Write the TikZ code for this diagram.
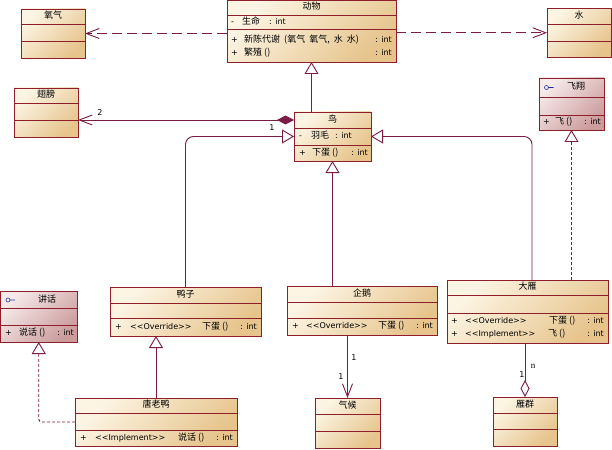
\documentclass[tikz,border=0pt]{standalone}
\usepackage{fontspec}
\setmainfont{DejaVu Sans}
\newfontfamily\cjk{Noto Sans CJK SC}
\newfontfamily\sernf{Liberation Serif}
\usetikzlibrary{arrows.meta}
\definecolor{bd}{HTML}{8E1F2A}
\definecolor{ln}{HTML}{7A1C45}
\definecolor{cA}{HTML}{FCF5E4}
\definecolor{cB}{HTML}{E6C48C}
\definecolor{iA}{HTML}{F6EAEA}
\definecolor{iB}{HTML}{CC9C9C}
\definecolor{icn}{HTML}{2030A0}
\newcommand\umlbox[9]{%
  \pgfmathsetmacro\ubw{#4-#2}\pgfmathsetmacro\ubh{#5-#3}%
  \node[#8, minimum width=\ubw pt, minimum height=\ubh pt] (#1) at (#2,#3) {};
  \draw[sepl] (#2,#6) -- (#4,#6) (#2,#7) -- (#4,#7);
  \node[zh] (#1-t) at ({(#2+#4)/2},{(#3+#6)/2}) {#9};
}
\begin{document}
\begin{tikzpicture}[x=1pt,y=-1pt,
  cls/.style={draw=bd, line width=0.8pt, inner sep=0pt, outer sep=0pt, anchor=north west, top color=cA, bottom color=cB, shading angle=45},
  ifc/.style={draw=bd, line width=0.8pt, inner sep=0pt, outer sep=0pt, anchor=north west, top color=iA, bottom color=iB, shading angle=45},
  sepl/.style={draw=bd, line width=0.8pt},
  txt/.style={font=\fontsize{8}{9}\selectfont, inner sep=0pt, text height=6pt, text depth=1.5pt, text=black},
  zh/.style={txt, font=\fontsize{9}{9}\selectfont\cjk},
  lw/.style={txt, anchor=west},
  le/.style={txt, anchor=east},
  zw/.style={zh, anchor=west},
  lbl/.style={font=\fontsize{8}{8}\selectfont, inner sep=0pt, text=black},
  conn/.style={draw=ln, line width=0.9pt},
  gen/.style={conn, -{Triangle[open, length=12pt, width=14pt, fill=white]}},
  real/.style={conn, dash pattern=on 3pt off 2pt, -{Triangle[open, length=12pt, width=14pt, fill=white]}},
  dep/.style={conn, dash pattern=on 10pt off 5pt, -{Straight Barb[length=13pt, width=10pt]}},
  assoc/.style={conn, -{Straight Barb[length=13pt, width=10pt]}},
  comp/.style={conn, {Diamond[length=17pt, width=9pt]}-{Straight Barb[length=13pt, width=10pt]}},
  agg/.style={conn, -{Diamond[open, length=17pt, width=9pt, fill=white]}},
  icon/.style={draw=icn, line width=0.6pt}
]
\fill[white] (0,0) rectangle (612,449);
\useasboundingbox (0,0) rectangle (612,449);

% ---- classes ----
\umlbox{dongwu}{227}{0.5}{396}{62}{15}{29}{cls}{动物}
\node[lw] (dw-a1) at (231,22) {-};
\node[zw] (dw-a2) at (242,22) {生命};
\node[lw] (dw-a3) at (269,22) {: int};
\node[lw] (dw-o1) at (231,40.5) {+};
\node[zw] (dw-o2) at (244,40.5) {新陈代谢\hspace{2pt} (氧气\hspace{2pt} 氧气,\hspace{2pt} 水\hspace{2pt} 水)};
\node[le] (dw-o3) at (392,40.5) {: int};
\node[lw] (dw-o4) at (231,53.5) {+};
\node[zw] (dw-o5) at (244,53.5) {繁殖 ()};
\node[le] (dw-o6) at (392,53.5) {: int};

\umlbox{yq}{21}{9}{85}{58}{24}{41}{cls}{氧气}
\umlbox{shui}{547}{8.5}{611}{57}{24}{41}{cls}{水}
\umlbox{chibang}{14}{88}{78}{137}{103}{120}{cls}{翅膀}

\umlbox{fx}{539}{78}{604}{130}{97}{115}{ifc}{}
\draw[icon] (546.5,87.5) circle (2) (548.5,87.5) -- (553.5,87.5);
\node[zh] (fx-tt) at (576,87.5) {飞翔};
\node[lw] (fx-o1) at (543,122.5) {+};
\node[zw] (fx-o2) at (555,122.5) {飞 ()};
\node[le] (fx-o3) at (601,122.5) {: int};

\umlbox{niao}{294}{112}{371}{161}{128}{145}{cls}{鸟}
\node[lw] (n-a1) at (299,136.5) {-};
\node[zw] (n-a2) at (311,136.5) {羽毛};
\node[lw] (n-a3) at (335,136.5) {: int};
\node[lw] (n-o1) at (299,153) {+};
\node[zw] (n-o2) at (312,153) {下蛋 ()};
\node[le] (n-o3) at (368,153) {: int};

\umlbox{jh}{0.5}{291}{77}{342}{308}{325}{ifc}{}
\draw[icon] (8,300) circle (2) (10,300) -- (15,300);
\node[zh] (jh-tt) at (47,300) {讲话};
\node[lw] (jh-o1) at (5,333.5) {+};
\node[zw] (jh-o2) at (19,333.5) {说话 ()};
\node[le] (jh-o3) at (74,333.5) {: int};

\umlbox{yazi}{110}{287}{261}{336}{303}{318}{cls}{鸭子}
\node[lw] (yz-o1) at (115,327) {+};
\node[lw] (yz-o2) at (130,327) {{<}{<}Override{>}{>}};
\node[zw] (yz-o3) at (202,327) {下蛋 ()};
\node[le] (yz-o4) at (257,327) {: int};

\umlbox{qie}{287}{286}{437}{335}{302}{318}{cls}{企鹅}
\node[lw] (qe-o1) at (292,326.5) {+};
\node[lw] (qe-o2) at (306,326.5) {{<}{<}Override{>}{>}};
\node[zw] (qe-o3) at (378,326.5) {下蛋 ()};
\node[le] (qe-o4) at (433,326.5) {: int};

\umlbox{dayan}{447}{280}{608}{343}{295}{313}{cls}{大雁}
\node[lw] (dy-o1) at (451,321) {+};
\node[lw] (dy-o2) at (465,321) {{<}{<}Override{>}{>}};
\node[zw] (dy-o3) at (549,321) {下蛋 ()};
\node[le] (dy-o4) at (604,321) {: int};
\node[lw] (dy-o5) at (451,334) {+};
\node[lw] (dy-o6) at (465,334) {{<}{<}Implement{>}{>}};
\node[zw] (dy-o7) at (548,334) {飞 ()};
\node[le] (dy-o8) at (604,334) {: int};

\umlbox{tly}{75}{398}{237}{446}{413}{430}{cls}{唐老鸭}
\node[lw] (tl-o1) at (80,438) {+};
\node[lw] (tl-o2) at (95,438) {{<}{<}Implement{>}{>}};
\node[zw] (tl-o3) at (178,438) {说话 ()};
\node[le] (tl-o4) at (233,438) {: int};

\umlbox{qh}{315}{398}{380}{448}{414}{431}{cls}{气候}
\umlbox{yqun}{493}{397}{557}{446}{413}{429}{cls}{雁群}

% ---- connectors ----
\draw[dep] (dongwu.west |- yq.east) -- (yq.east);
\draw[dep] (dongwu.east |- shui.west) -- (shui.west);
\draw[gen] (niao.north -| dongwu.south) -- (dongwu.south);
\coordinate (c1) at ([yshift=-8pt]niao.north west);
\draw[comp] (c1) -- (chibang.east |- c1);
\draw[gen, rounded corners=8pt] (yazi.north) |- (niao.west);
\coordinate (c2) at ([xshift=85pt]dayan.north west);
\draw[gen, rounded corners=8pt] (c2) |- (niao.east);
\draw[gen] (qie.north -| niao.south) -- (niao.south);
\draw[real] (dayan.north -| fx.south) -- (fx.south);
\draw[gen] (tly.north) -- (yazi.south -| tly.north);
\draw[real, rounded corners=3pt] (tly.west) -| (jh.south);
\draw[assoc] (qie.south -| qh.north) -- (qh.north);
\draw[agg] (dayan.south -| yqun.north) -- (yqun.north);

% ---- multiplicities ----
\node[lbl] (m1) at (100,113) {2};
\node[lbl] (m2) at (272,128) {1};
\node[lbl] (m3) at (354,358) {1};
\node[lbl] (m4) at (341,377) {1};
\node[lbl, font=\fontsize{9}{9}\selectfont\sernf] (m5) at (533,366) {n};
\node[lbl] (m6) at (522,375) {1};
\end{tikzpicture}
\end{document}
